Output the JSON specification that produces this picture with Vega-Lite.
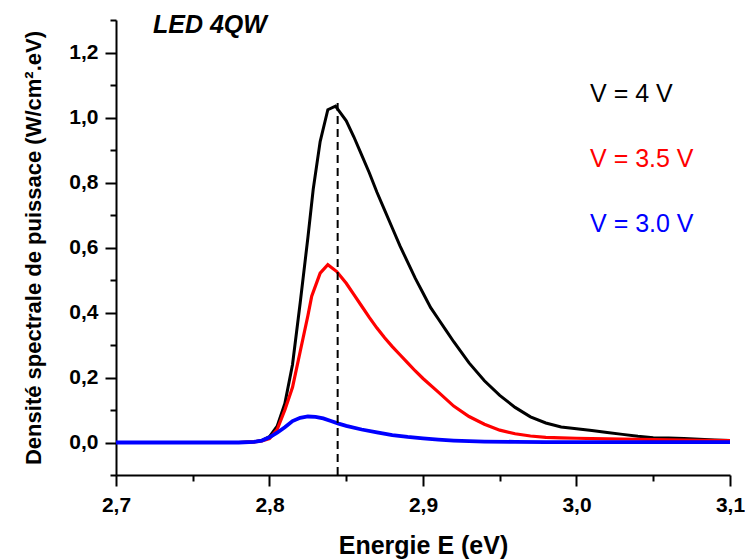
{
  "$schema": "https://vega.github.io/schema/vega-lite/v6.json",
  "width": 614,
  "height": 455,
  "autosize": {"type": "none"},
  "padding": {"left": 116, "top": 20, "right": 15, "bottom": 85},
  "background": "white",
  "config": {
    "view": {"stroke": null},
    "font": "Liberation Sans",
    "axis": {
      "grid": false,
      "domainColor": "black",
      "domainWidth": 2,
      "tickColor": "black",
      "tickWidth": 2,
      "labelColor": "black",
      "labelFont": "Liberation Sans",
      "labelFontWeight": "bold",
      "labelFontSize": 21,
      "titleColor": "black",
      "titleFont": "Liberation Sans",
      "titleFontWeight": "bold",
      "titleFontSize": 25
    }
  },
  "datasets": {
    "spectra": [
      {"E": 2.70, "P": 0, "V": "4"}, {"E": 2.75, "P": 0, "V": "4"}, {"E": 2.78, "P": 0, "V": "4"},
      {"E": 2.79, "P": 0.002, "V": "4"}, {"E": 2.795, "P": 0.006, "V": "4"}, {"E": 2.80, "P": 0.018, "V": "4"},
      {"E": 2.805, "P": 0.05, "V": "4"}, {"E": 2.81, "P": 0.12, "V": "4"}, {"E": 2.815, "P": 0.24, "V": "4"},
      {"E": 2.82, "P": 0.43, "V": "4"}, {"E": 2.825, "P": 0.63, "V": "4"}, {"E": 2.8285, "P": 0.78, "V": "4"},
      {"E": 2.833, "P": 0.926, "V": "4"}, {"E": 2.838, "P": 1.024, "V": "4"}, {"E": 2.843, "P": 1.035, "V": "4"},
      {"E": 2.85, "P": 0.99, "V": "4"}, {"E": 2.855, "P": 0.94, "V": "4"}, {"E": 2.86, "P": 0.885, "V": "4"},
      {"E": 2.865, "P": 0.83, "V": "4"}, {"E": 2.87, "P": 0.77, "V": "4"}, {"E": 2.875, "P": 0.715, "V": "4"},
      {"E": 2.88, "P": 0.66, "V": "4"}, {"E": 2.885, "P": 0.605, "V": "4"}, {"E": 2.89, "P": 0.555, "V": "4"},
      {"E": 2.895, "P": 0.505, "V": "4"}, {"E": 2.90, "P": 0.46, "V": "4"}, {"E": 2.905, "P": 0.415, "V": "4"},
      {"E": 2.91, "P": 0.38, "V": "4"}, {"E": 2.915, "P": 0.345, "V": "4"}, {"E": 2.92, "P": 0.31, "V": "4"},
      {"E": 2.93, "P": 0.245, "V": "4"}, {"E": 2.94, "P": 0.19, "V": "4"}, {"E": 2.95, "P": 0.145, "V": "4"},
      {"E": 2.96, "P": 0.108, "V": "4"}, {"E": 2.97, "P": 0.079, "V": "4"}, {"E": 2.98, "P": 0.06, "V": "4"},
      {"E": 2.99, "P": 0.048, "V": "4"}, {"E": 3.00, "P": 0.042, "V": "4"}, {"E": 3.01, "P": 0.037, "V": "4"},
      {"E": 3.02, "P": 0.031, "V": "4"}, {"E": 3.03, "P": 0.025, "V": "4"}, {"E": 3.04, "P": 0.019, "V": "4"},
      {"E": 3.05, "P": 0.015, "V": "4"}, {"E": 3.06, "P": 0.014, "V": "4"}, {"E": 3.07, "P": 0.012, "V": "4"},
      {"E": 3.08, "P": 0.01, "V": "4"}, {"E": 3.09, "P": 0.008, "V": "4"}, {"E": 3.10, "P": 0.006, "V": "4"},

      {"E": 2.70, "P": 0, "V": "3.5"}, {"E": 2.75, "P": 0, "V": "3.5"}, {"E": 2.78, "P": 0, "V": "3.5"},
      {"E": 2.79, "P": 0.002, "V": "3.5"}, {"E": 2.795, "P": 0.005, "V": "3.5"}, {"E": 2.80, "P": 0.012, "V": "3.5"},
      {"E": 2.805, "P": 0.04, "V": "3.5"}, {"E": 2.81, "P": 0.1, "V": "3.5"}, {"E": 2.815, "P": 0.17, "V": "3.5"},
      {"E": 2.82, "P": 0.28, "V": "3.5"}, {"E": 2.825, "P": 0.39, "V": "3.5"}, {"E": 2.8275, "P": 0.45, "V": "3.5"},
      {"E": 2.833, "P": 0.521, "V": "3.5"}, {"E": 2.838, "P": 0.547, "V": "3.5"}, {"E": 2.8438, "P": 0.526, "V": "3.5"},
      {"E": 2.85, "P": 0.49, "V": "3.5"}, {"E": 2.855, "P": 0.455, "V": "3.5"}, {"E": 2.86, "P": 0.42, "V": "3.5"},
      {"E": 2.865, "P": 0.385, "V": "3.5"}, {"E": 2.87, "P": 0.352, "V": "3.5"}, {"E": 2.875, "P": 0.322, "V": "3.5"},
      {"E": 2.88, "P": 0.295, "V": "3.5"}, {"E": 2.885, "P": 0.27, "V": "3.5"}, {"E": 2.89, "P": 0.245, "V": "3.5"},
      {"E": 2.895, "P": 0.22, "V": "3.5"}, {"E": 2.90, "P": 0.197, "V": "3.5"}, {"E": 2.91, "P": 0.155, "V": "3.5"},
      {"E": 2.92, "P": 0.112, "V": "3.5"}, {"E": 2.93, "P": 0.08, "V": "3.5"}, {"E": 2.94, "P": 0.056, "V": "3.5"},
      {"E": 2.95, "P": 0.038, "V": "3.5"}, {"E": 2.96, "P": 0.027, "V": "3.5"}, {"E": 2.97, "P": 0.02, "V": "3.5"},
      {"E": 2.98, "P": 0.016, "V": "3.5"}, {"E": 2.99, "P": 0.014, "V": "3.5"}, {"E": 3.00, "P": 0.013, "V": "3.5"},
      {"E": 3.02, "P": 0.011, "V": "3.5"}, {"E": 3.04, "P": 0.01, "V": "3.5"}, {"E": 3.06, "P": 0.008, "V": "3.5"},
      {"E": 3.08, "P": 0.007, "V": "3.5"}, {"E": 3.10, "P": 0.006, "V": "3.5"},

      {"E": 2.70, "P": 0, "V": "3.0"}, {"E": 2.75, "P": 0, "V": "3.0"}, {"E": 2.78, "P": 0, "V": "3.0"},
      {"E": 2.79, "P": 0.002, "V": "3.0"}, {"E": 2.795, "P": 0.006, "V": "3.0"}, {"E": 2.80, "P": 0.016, "V": "3.0"},
      {"E": 2.805, "P": 0.03, "V": "3.0"}, {"E": 2.81, "P": 0.047, "V": "3.0"}, {"E": 2.815, "P": 0.066, "V": "3.0"},
      {"E": 2.82, "P": 0.076, "V": "3.0"}, {"E": 2.825, "P": 0.08, "V": "3.0"}, {"E": 2.83, "P": 0.079, "V": "3.0"},
      {"E": 2.835, "P": 0.074, "V": "3.0"}, {"E": 2.84, "P": 0.066, "V": "3.0"}, {"E": 2.845, "P": 0.058, "V": "3.0"},
      {"E": 2.85, "P": 0.051, "V": "3.0"}, {"E": 2.86, "P": 0.04, "V": "3.0"}, {"E": 2.87, "P": 0.031, "V": "3.0"},
      {"E": 2.88, "P": 0.023, "V": "3.0"}, {"E": 2.89, "P": 0.017, "V": "3.0"}, {"E": 2.90, "P": 0.013, "V": "3.0"},
      {"E": 2.91, "P": 0.009, "V": "3.0"}, {"E": 2.92, "P": 0.006, "V": "3.0"}, {"E": 2.93, "P": 0.004, "V": "3.0"},
      {"E": 2.94, "P": 0.003, "V": "3.0"}, {"E": 2.96, "P": 0.002, "V": "3.0"}, {"E": 2.98, "P": 0.001, "V": "3.0"},
      {"E": 3.00, "P": 0.001, "V": "3.0"}, {"E": 3.10, "P": 0.001, "V": "3.0"}
    ],
    "peak": [{"E": 2.8444, "lo": -0.1, "hi": 1.055}],
    "labels": [
      {"E": 3.0088, "P": 1.049, "text": "V = 4 V", "color": "4"},
      {"E": 3.0088, "P": 0.849, "text": "V = 3.5 V", "color": "3.5"},
      {"E": 3.0088, "P": 0.649, "text": "V = 3.0 V", "color": "3.0"}
    ],
    "heading": [{"E": 2.7612, "P": 1.26, "text": "LED 4QW"}]
  },
  "resolve": {"axis": {"x": "independent", "y": "independent"}},
  "layer": [
    {
      "data": {"name": "spectra"},
      "transform": [{"filter": "datum.V === '4'"}],
      "mark": {"type": "line", "color": "black", "strokeWidth": 3, "clip": true},
      "encoding": {
        "x": {
          "field": "E", "type": "quantitative",
          "scale": {"domain": [2.7, 3.1], "nice": false, "zero": false},
          "axis": {
            "orient": "bottom",
            "values": [2.7, 2.8, 2.9, 3.0, 3.1],
            "format": ".1f",
            "labelExpr": "replace(datum.label, '.', ',')",
            "labelFontSize": 21,
            "labelFontWeight": "bold",
            "tickSize": 11,
            "labelPadding": 8,
            "labelFlush": false,
            "labelOverlap": false,
            "title": "Energie E (eV)",
            "titleFontSize": 25,
            "titleBaseline": "alphabetic",
            "titleY": 78
          }
        },
        "y": {
          "field": "P", "type": "quantitative",
          "scale": {"domain": [-0.1, 1.3], "nice": false, "zero": false},
          "axis": {
            "orient": "left",
            "values": [0, 0.2, 0.4, 0.6, 0.8, 1.0, 1.2],
            "format": ".1f",
            "labelExpr": "replace(datum.label, '.', ',')",
            "labelFontSize": 21,
            "labelFontWeight": "bold",
            "tickSize": 11,
            "labelPadding": 7,
            "labelOverlap": false,
            "title": "Densité spectrale de puissace (W/cm².eV)",
            "titleFontSize": 22,
            "titleBaseline": "alphabetic",
            "titleX": -76
          }
        }
      }
    },
    {
      "data": {"name": "spectra"},
      "transform": [{"filter": "datum.V === '3.5'"}],
      "mark": {"type": "line", "color": "#ff0000", "strokeWidth": 3.2, "clip": true},
      "encoding": {
        "x": {"field": "E", "type": "quantitative", "axis": null},
        "y": {"field": "P", "type": "quantitative", "axis": null}
      }
    },
    {
      "data": {"name": "spectra"},
      "transform": [{"filter": "datum.V === '3.0'"}],
      "mark": {"type": "line", "color": "#0000ff", "strokeWidth": 3.8, "clip": true},
      "encoding": {
        "x": {"field": "E", "type": "quantitative", "axis": null},
        "y": {"field": "P", "type": "quantitative", "axis": null}
      }
    },
    {
      "data": {"name": "peak"},
      "mark": {"type": "rule", "color": "black", "strokeWidth": 2, "strokeDash": [8, 5]},
      "encoding": {
        "x": {
          "field": "E", "type": "quantitative",
          "axis": {
            "orient": "bottom",
            "values": [2.75, 2.85, 2.95, 3.05],
            "labels": false,
            "domain": false,
            "tickSize": 6,
            "title": null
          }
        },
        "y": {
          "field": "lo", "type": "quantitative",
          "axis": {
            "orient": "left",
            "values": [-0.1, 0.1, 0.3, 0.5, 0.7, 0.9, 1.1, 1.3],
            "labels": false,
            "domain": false,
            "tickSize": 6,
            "title": null
          }
        },
        "y2": {"field": "hi"}
      }
    },
    {
      "data": {"name": "labels"},
      "mark": {"type": "text", "align": "left", "baseline": "alphabetic", "fontSize": 25, "font": "Liberation Sans"},
      "encoding": {
        "x": {"field": "E", "type": "quantitative", "axis": null},
        "y": {"field": "P", "type": "quantitative", "axis": null},
        "text": {"field": "text"},
        "color": {
          "field": "color", "type": "nominal", "legend": null,
          "scale": {"domain": ["4", "3.5", "3.0"], "range": ["#000000", "#ff0000", "#0000ff"]}
        }
      }
    },
    {
      "data": {"name": "heading"},
      "mark": {"type": "text", "align": "center", "baseline": "alphabetic", "fontSize": 25, "fontWeight": "bold", "fontStyle": "italic", "font": "Liberation Sans", "color": "black"},
      "encoding": {
        "x": {"field": "E", "type": "quantitative", "axis": null},
        "y": {"field": "P", "type": "quantitative", "axis": null},
        "text": {"field": "text"}
      }
    }
  ]
}
